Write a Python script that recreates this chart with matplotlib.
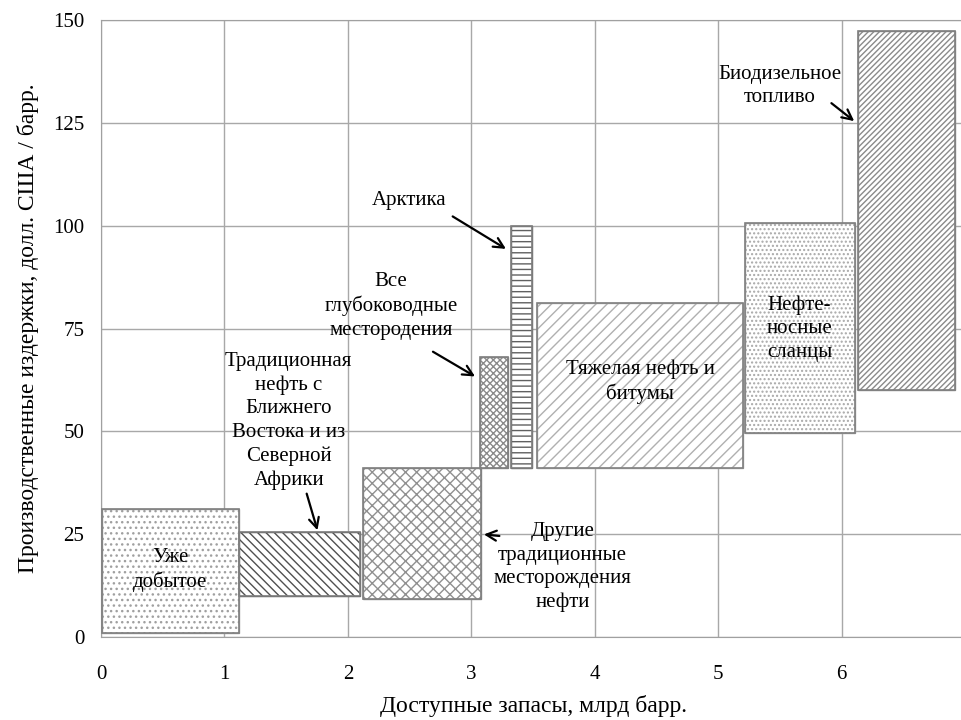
import matplotlib.pyplot as plt
from matplotlib.patches import Rectangle

plt.rcParams['font.family'] = ['Liberation Serif', 'DejaVu Serif']
plt.rcParams['hatch.linewidth'] = 1.0

# rectangles: x start, x end, cost low, cost high
names = ["Уже добытое", "Традиционная нефть БВ и СА", "Другие традиционные",
         "Глубоководные", "Арктика", "Тяжелая нефть и битумы",
         "Нефтеносные сланцы", "Биодизельное топливо"]
x_start = [0.01, 1.12, 2.12, 3.07, 3.32, 3.53, 5.22, 6.13]
x_end = [1.12, 2.10, 3.08, 3.30, 3.49, 5.20, 6.11, 6.92]
cost_low = [1, 10, 9.2, 41.2, 41.2, 41.2, 49.6, 60]
cost_high = [31, 25.5, 41, 68, 100, 81.3, 100.6, 147.4]
hatches = ['...', '\\\\\\\\', 'xxx', 'xxxxx', '---', '///', '....', '//////']
hatch_colors = ['#a0a0a0', '#505050', '#909090', '#8a8a8a', '#606060',
                '#b0b0b0', '#a8a8a8', '#8a8a8a']

x_ticks = [0, 1, 2, 3, 4, 5, 6, 7]
y_ticks = [0, 25, 50, 75, 100, 125, 150]

fig = plt.figure(figsize=(9.61, 7.2), dpi=100)
ax = fig.add_axes([101 / 961, 83 / 720, 864 / 961, 617 / 720])
ax.set_xlim(0, 7)
ax.set_ylim(0, 150)
ax.set_xticks(x_ticks)
ax.set_yticks(y_ticks)
ax.grid(True, color='#a8a8a8', lw=1)
ax.set_axisbelow(True)
ax.tick_params(length=0, labelsize=15)
ax.tick_params(axis='x', pad=20)
ax.tick_params(axis='y', pad=12)
for s in ax.spines.values():
    s.set_color('#a0a0a0')

for i in range(len(names)):
    r = Rectangle((x_start[i], cost_low[i]), x_end[i] - x_start[i],
                  cost_high[i] - cost_low[i], facecolor='white',
                  edgecolor=hatch_colors[i], hatch=hatches[i], lw=1, zorder=2)
    ax.add_patch(r)
    r2 = Rectangle((x_start[i], cost_low[i]), x_end[i] - x_start[i],
                   cost_high[i] - cost_low[i], fill=False,
                   edgecolor='#808080', lw=1.2, zorder=3)
    ax.add_patch(r2)

ax.set_xlabel("Доступные запасы, млрд барр.", fontsize=17, labelpad=8)
ax.set_ylabel("Производственные издержки, долл. США / барр.", fontsize=17, labelpad=10)

fs = 15
ls = 1.32
ax.text(0.56, 16.3, "Уже\nдобытое", ha='center', va='center', fontsize=fs,
        linespacing=ls, zorder=5)
ax.text(4.37, 62, "Тяжелая нефть и\nбитумы", ha='center', va='center', fontsize=fs,
        linespacing=ls, zorder=5)
ax.text(5.66, 75, "Нефте-\nносные\nсланцы", ha='center', va='center', fontsize=fs,
        linespacing=ls, zorder=5)

arrow = dict(arrowstyle='->', color='black', lw=1.6, mutation_scale=18)
ax.text(1.52, 52.5, "Традиционная\nнефть с\nБлижнего\nВостока и из\nСеверной\nАфрики",
        ha='center', va='center', fontsize=fs, linespacing=ls, zorder=5)
ax.annotate("", xy=(1.76, 25.3), xytext=(1.66, 35.5), arrowprops=arrow, zorder=5)
ax.text(3.74, 17, "Другие\nтрадиционные\nместорождения\nнефти",
        ha='center', va='center', fontsize=fs, linespacing=ls, zorder=5)
ax.annotate("", xy=(3.08, 25), xytext=(3.25, 24.5), arrowprops=arrow, zorder=5)
ax.text(2.35, 80.5, "Все\nглубоководные\nместородения",
        ha='center', va='center', fontsize=fs, linespacing=ls, zorder=5)
ax.annotate("", xy=(3.05, 63), xytext=(2.67, 69.7), arrowprops=arrow, zorder=5)
ax.text(2.5, 106, "Арктика", ha='center', va='center', fontsize=fs, zorder=5)
ax.annotate("", xy=(3.3, 94), xytext=(2.83, 102.6), arrowprops=arrow, zorder=5)
ax.text(5.5, 134, "Биодизельное\nтопливо", ha='center', va='center', fontsize=fs,
        linespacing=ls, zorder=5)
ax.annotate("", xy=(6.12, 125), xytext=(5.9, 130.2), arrowprops=arrow, zorder=5)

fig.savefig("out.png", dpi=100)
